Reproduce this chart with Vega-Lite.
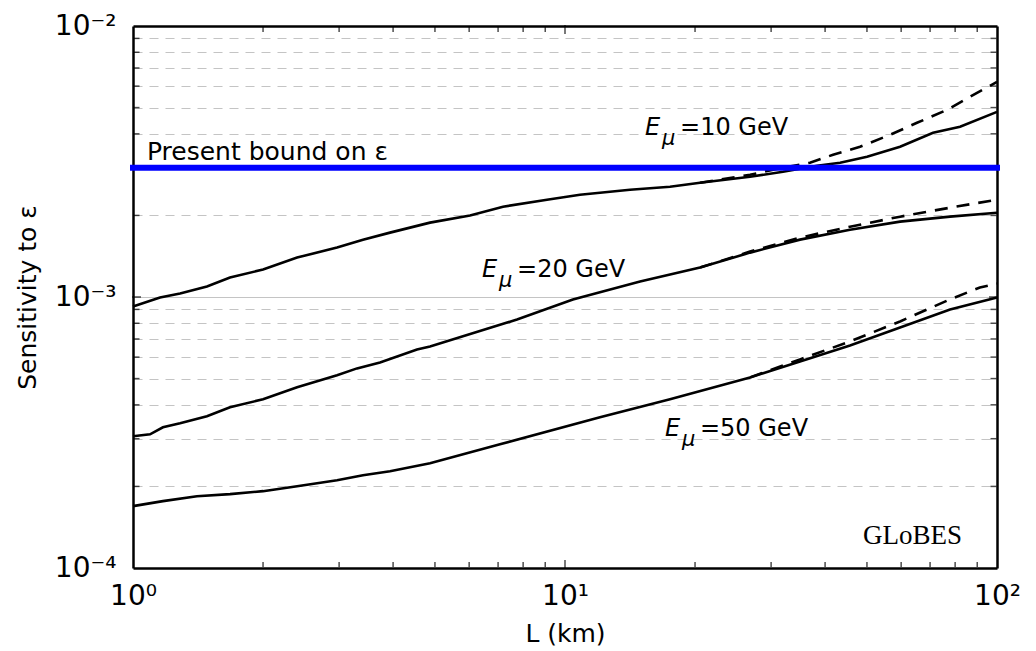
{
  "$schema": "https://vega.github.io/schema/vega-lite/v6.json",
  "width": 864,
  "height": 542,
  "autosize": {"type": "none"},
  "padding": {"left": 133, "top": 26, "right": 39, "bottom": 83},
  "background": "white",
  "config": {
    "view": {"stroke": null},
    "font": "DejaVu Sans",
    "axis": {
      "labelFont": "DejaVu Sans",
      "labelFontSize": 28,
      "labelColor": "black",
      "titleFont": "DejaVu Sans",
      "titleFontSize": 25,
      "titleFontWeight": "normal",
      "titleColor": "black",
      "domainColor": "black",
      "domainWidth": 2.5,
      "labelOverlap": false,
      "labelFlush": false
    }
  },
  "datasets": {
    "solid": [
      {"E": 10, "L": 1, "v": 0.000923}, {"E": 10, "L": 1.155, "v": 0.000996}, {"E": 10, "L": 1.285, "v": 0.001031},
      {"E": 10, "L": 1.483, "v": 0.001093}, {"E": 10, "L": 1.677, "v": 0.00118}, {"E": 10, "L": 2.0, "v": 0.001263},
      {"E": 10, "L": 2.398, "v": 0.001398}, {"E": 10, "L": 2.967, "v": 0.001522}, {"E": 10, "L": 3.407, "v": 0.001628},
      {"E": 10, "L": 3.935, "v": 0.001728}, {"E": 10, "L": 4.87, "v": 0.001881}, {"E": 10, "L": 6.027, "v": 0.002},
      {"E": 10, "L": 7.186, "v": 0.002154}, {"E": 10, "L": 9.085, "v": 0.002286}, {"E": 10, "L": 10.83, "v": 0.002385},
      {"E": 10, "L": 14.14, "v": 0.002488}, {"E": 10, "L": 17.5, "v": 0.002553}, {"E": 10, "L": 20.54, "v": 0.00264},
      {"E": 10, "L": 26.81, "v": 0.002778}, {"E": 10, "L": 31.96, "v": 0.002898}, {"E": 10, "L": 38.31, "v": 0.00305},
      {"E": 10, "L": 43.33, "v": 0.003129}, {"E": 10, "L": 50.02, "v": 0.003293}, {"E": 10, "L": 59.65, "v": 0.003583},
      {"E": 10, "L": 71.12, "v": 0.004035}, {"E": 10, "L": 82.13, "v": 0.004246}, {"E": 10, "L": 100, "v": 0.004822},
      {"E": 20, "L": 1, "v": 0.0003063}, {"E": 20, "L": 1.095, "v": 0.0003115}, {"E": 20, "L": 1.173, "v": 0.0003305},
      {"E": 20, "L": 1.285, "v": 0.0003419}, {"E": 20, "L": 1.483, "v": 0.000363}, {"E": 20, "L": 1.677, "v": 0.0003918},
      {"E": 20, "L": 2.0, "v": 0.0004194}, {"E": 20, "L": 2.398, "v": 0.0004642}, {"E": 20, "L": 2.967, "v": 0.0005141},
      {"E": 20, "L": 3.3, "v": 0.0005452}, {"E": 20, "L": 3.731, "v": 0.0005737}, {"E": 20, "L": 4.544, "v": 0.0006405},
      {"E": 20, "L": 4.87, "v": 0.000657}, {"E": 20, "L": 7.743, "v": 0.000826}, {"E": 20, "L": 10.43, "v": 0.000979},
      {"E": 20, "L": 14.92, "v": 0.001141}, {"E": 20, "L": 20.54, "v": 0.001284}, {"E": 20, "L": 26.81, "v": 0.001458},
      {"E": 20, "L": 34.99, "v": 0.001628}, {"E": 20, "L": 45.68, "v": 0.001772}, {"E": 20, "L": 59.65, "v": 0.001897},
      {"E": 20, "L": 77.86, "v": 0.001979}, {"E": 20, "L": 100, "v": 0.002047},
      {"E": 50, "L": 1, "v": 0.0001692}, {"E": 50, "L": 1.173, "v": 0.0001765}, {"E": 50, "L": 1.406, "v": 0.0001841},
      {"E": 50, "L": 1.677, "v": 0.0001873}, {"E": 50, "L": 2.0, "v": 0.0001921}, {"E": 50, "L": 2.398, "v": 0.0002004},
      {"E": 50, "L": 2.967, "v": 0.0002109}, {"E": 50, "L": 3.407, "v": 0.00022}, {"E": 50, "L": 3.935, "v": 0.0002276},
      {"E": 50, "L": 4.87, "v": 0.0002435}, {"E": 50, "L": 7.071, "v": 0.0002862}, {"E": 50, "L": 12.05, "v": 0.0003599},
      {"E": 50, "L": 17.5, "v": 0.0004194}, {"E": 50, "L": 26.81, "v": 0.0005051}, {"E": 50, "L": 34.99, "v": 0.0005786},
      {"E": 50, "L": 45.68, "v": 0.0006627}, {"E": 50, "L": 59.65, "v": 0.000772}, {"E": 50, "L": 77.86, "v": 0.000899},
      {"E": 50, "L": 100, "v": 0.000996}
    ],
    "dashed": [
      {"E": 10, "L": 20.54, "v": 0.00264}, {"E": 10, "L": 26.81, "v": 0.002826}, {"E": 10, "L": 31.96, "v": 0.002999},
      {"E": 10, "L": 36.9, "v": 0.003129}, {"E": 10, "L": 41.74, "v": 0.003349}, {"E": 10, "L": 48.19, "v": 0.003583},
      {"E": 10, "L": 56.55, "v": 0.003967}, {"E": 10, "L": 65.28, "v": 0.004393}, {"E": 10, "L": 76.63, "v": 0.004906},
      {"E": 10, "L": 89.89, "v": 0.005664}, {"E": 10, "L": 100, "v": 0.006218},
      {"E": 20, "L": 20.54, "v": 0.001284}, {"E": 20, "L": 26.81, "v": 0.001471}, {"E": 20, "L": 34.99, "v": 0.001656},
      {"E": 20, "L": 45.68, "v": 0.001818}, {"E": 20, "L": 59.65, "v": 0.001979}, {"E": 20, "L": 77.86, "v": 0.002136},
      {"E": 20, "L": 100, "v": 0.002286},
      {"E": 50, "L": 26.81, "v": 0.0005051}, {"E": 50, "L": 34.99, "v": 0.0005886}, {"E": 50, "L": 45.68, "v": 0.0006855},
      {"E": 50, "L": 59.65, "v": 0.0008125}, {"E": 50, "L": 77.86, "v": 0.00098}, {"E": 50, "L": 91.3, "v": 0.001084},
      {"E": 50, "L": 100, "v": 0.001121}
    ],
    "labels": [
      {"L": 15.32, "v": 0.003967, "rest": "=10 GeV"},
      {"L": 6.427, "v": 0.00119, "rest": "=20 GeV"},
      {"L": 17.04, "v": 0.0003063, "rest": "=50 GeV"}
    ],
    "bound": [{"v": 0.003}],
    "notes": [
      {"L": 1.077, "v": 0.003209, "t": "Present bound on ε"}
    ],
    "brand": [
      {"L": 48.96, "v": 0.0001226, "t": "GLoBES"}
    ],
    "xticks": [
      {"L": 2}, {"L": 3}, {"L": 4}, {"L": 5}, {"L": 6}, {"L": 7}, {"L": 8}, {"L": 9}, {"L": 10},
      {"L": 20}, {"L": 30}, {"L": 40}, {"L": 50}, {"L": 60}, {"L": 70}, {"L": 80}, {"L": 90}
    ],
    "yticks": [
      {"v": 0.0002}, {"v": 0.0003}, {"v": 0.0004}, {"v": 0.0005}, {"v": 0.0006}, {"v": 0.0007}, {"v": 0.0008}, {"v": 0.0009}, {"v": 0.001},
      {"v": 0.002}, {"v": 0.003}, {"v": 0.004}, {"v": 0.005}, {"v": 0.006}, {"v": 0.007}, {"v": 0.008}, {"v": 0.009}
    ]
  },
  "layer": [
    {
      "data": {"name": "solid"},
      "mark": {"type": "line", "color": "black", "strokeWidth": 2.6},
      "encoding": {
        "x": {
          "field": "L", "type": "quantitative",
          "scale": {"type": "log", "domain": [1, 100]},
          "axis": {
            "orient": "bottom",
            "values": [1, 10, 100],
            "labelExpr": "datum.value == 1 ? '10⁰' : datum.value == 10 ? '10¹' : '10²'",
            "ticks": false,
            "labelPadding": 14,
            "title": "L (km)",
            "titlePadding": 11,
            "grid": false
          }
        },
        "y": {
          "field": "v", "type": "quantitative",
          "scale": {"type": "log", "domain": [0.0001, 0.01]},
          "axis": {
            "orient": "left",
            "values": [0.0001, 0.0002, 0.0003, 0.0004, 0.0005, 0.0006, 0.0007, 0.0008, 0.0009, 0.001, 0.002, 0.003, 0.004, 0.005, 0.006, 0.007, 0.008, 0.009, 0.01],
            "labelExpr": "datum.value == 0.01 ? '10⁻²' : datum.value == 0.001 ? '10⁻³' : datum.value == 0.0001 ? '10⁻⁴' : ''",
            "ticks": false,
            "labelPadding": 17,
            "title": "Sensitivity to ε",
            "titlePadding": 14,
            "grid": true,
            "gridColor": "#c4c4c4",
            "gridWidth": 1.2,
            "gridDash": {"condition": {"test": "datum.value == 0.01 || datum.value == 0.001 || datum.value == 0.0001", "value": []}, "value": [9, 7]}
          }
        },
        "detail": {"field": "E"}
      }
    },
    {
      "data": {"name": "dashed"},
      "mark": {"type": "line", "color": "black", "strokeWidth": 2.6, "strokeDash": [13, 9]},
      "encoding": {
        "x": {
          "field": "L", "type": "quantitative",
          "axis": {"orient": "top", "labels": false, "ticks": false, "domain": true, "title": null, "grid": false}
        },
        "y": {
          "field": "v", "type": "quantitative",
          "axis": {"orient": "right", "labels": false, "ticks": false, "domain": true, "title": null, "grid": false}
        },
        "detail": {"field": "E"}
      }
    },
    {
      "data": {"name": "xticks"},
      "mark": {"type": "tick", "orient": "vertical", "color": "black", "thickness": 1.5, "yOffset": 3.5},
      "encoding": {
        "x": {"field": "L", "type": "quantitative", "axis": null},
        "y": {"datum": 0.01, "type": "quantitative", "axis": null},
        "size": {"condition": {"test": "datum.L == 10", "value": 9}, "value": 5}
      }
    },
    {
      "data": {"name": "xticks"},
      "mark": {"type": "tick", "orient": "vertical", "color": "black", "thickness": 1.5, "yOffset": -3.5},
      "encoding": {
        "x": {"field": "L", "type": "quantitative", "axis": null},
        "y": {"datum": 0.0001, "type": "quantitative", "axis": null},
        "size": {"condition": {"test": "datum.L == 10", "value": 9}, "value": 5}
      }
    },
    {
      "data": {"name": "yticks"},
      "mark": {"type": "tick", "orient": "horizontal", "color": "black", "thickness": 1.5, "xOffset": 3.5},
      "encoding": {
        "y": {"field": "v", "type": "quantitative", "axis": null},
        "x": {"datum": 1, "type": "quantitative", "axis": null},
        "size": {"condition": {"test": "datum.v == 0.001", "value": 9}, "value": 6}
      }
    },
    {
      "data": {"name": "yticks"},
      "mark": {"type": "tick", "orient": "horizontal", "color": "black", "thickness": 1.5, "xOffset": -3.5},
      "encoding": {
        "y": {"field": "v", "type": "quantitative", "axis": null},
        "x": {"datum": 100, "type": "quantitative", "axis": null},
        "size": {"condition": {"test": "datum.v == 0.001", "value": 9}, "value": 6}
      }
    },
    {
      "data": {"name": "bound"},
      "mark": {"type": "rule", "color": "#0000ff", "strokeWidth": 6, "strokeCap": "square"},
      "encoding": {
        "y": {"field": "v", "type": "quantitative", "axis": null}
      }
    },
    {
      "data": {"name": "notes"},
      "mark": {"type": "text", "align": "left", "baseline": "alphabetic", "fontSize": 25, "font": "DejaVu Sans", "color": "black"},
      "encoding": {
        "x": {"field": "L", "type": "quantitative", "axis": null},
        "y": {"field": "v", "type": "quantitative", "axis": null},
        "text": {"field": "t"}
      }
    },
    {
      "data": {"name": "labels"},
      "mark": {"type": "text", "align": "left", "baseline": "alphabetic", "fontSize": 24, "fontStyle": "italic", "font": "DejaVu Sans", "color": "black"},
      "encoding": {
        "x": {"field": "L", "type": "quantitative", "axis": null},
        "y": {"field": "v", "type": "quantitative", "axis": null},
        "text": {"value": "E"}
      }
    },
    {
      "data": {"name": "labels"},
      "mark": {"type": "text", "align": "left", "baseline": "alphabetic", "fontSize": 21, "fontStyle": "italic", "font": "DejaVu Sans", "color": "black", "dx": 17, "dy": 10},
      "encoding": {
        "x": {"field": "L", "type": "quantitative", "axis": null},
        "y": {"field": "v", "type": "quantitative", "axis": null},
        "text": {"value": "μ"}
      }
    },
    {
      "data": {"name": "labels"},
      "mark": {"type": "text", "align": "left", "baseline": "alphabetic", "fontSize": 24, "font": "DejaVu Sans", "color": "black", "dx": 35},
      "encoding": {
        "x": {"field": "L", "type": "quantitative", "axis": null},
        "y": {"field": "v", "type": "quantitative", "axis": null},
        "text": {"field": "rest"}
      }
    },
    {
      "data": {"name": "brand"},
      "mark": {"type": "text", "align": "left", "baseline": "alphabetic", "fontSize": 27, "font": "Liberation Serif", "color": "black"},
      "encoding": {
        "x": {"field": "L", "type": "quantitative", "axis": null},
        "y": {"field": "v", "type": "quantitative", "axis": null},
        "text": {"field": "t"}
      }
    }
  ],
  "resolve": {"axis": {"x": "independent", "y": "independent"}}
}
